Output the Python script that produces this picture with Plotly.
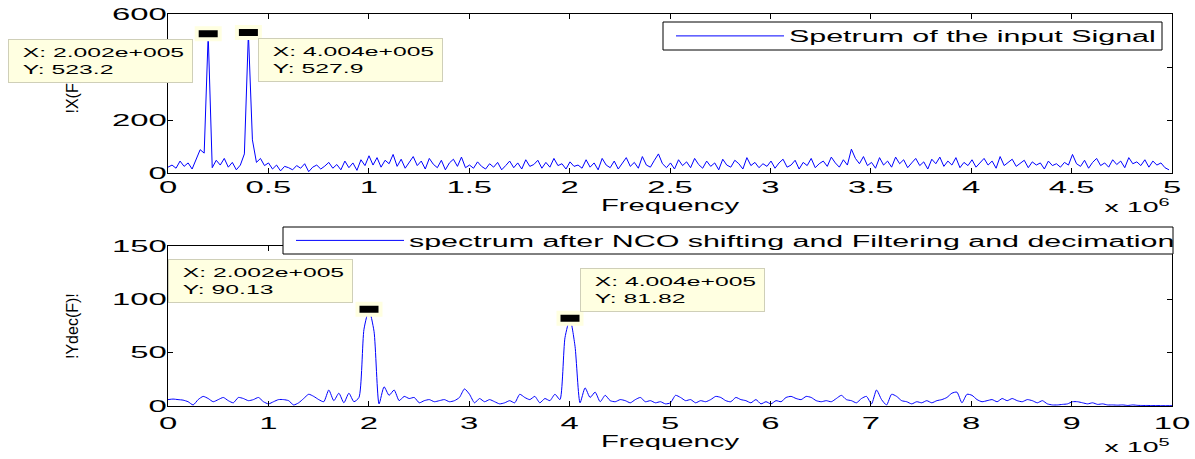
import plotly.graph_objects as go

# ---------------- data ----------------
top_step = 20020.0  # Hz between spectrum bins (input signal)
top_mag = [
    22, 30, 18, 45, 25, 38, 15, 52, 88, 75, 523.2, 20, 48, 30, 55, 22, 40, 12, 30, 72, 527.9, 125, 40, 55, 28,
    38, 15, 30, 8, 25, 20, 12, 28, 18, 35, 5, 22, 30, 15, 26, 40, 18, 32, 12, 45, 20, 38, 10, 50, 28,
    65, 30, 58, 22, 48, 35, 70, 25, 52, 18, 40, 62, 28, 45, 15, 55, 33, 20, 48, 12, 38, 52, 25, 60, 20,
    30, 18, 42, 25, 15, 35, 22, 40, 12, 28, 45, 20, 38, 15, 50, 25, 32, 48, 18, 40, 22, 55, 28, 35, 15,
    42, 25, 30, 18, 50, 22, 38, 12, 55, 30, 20, 45, 15, 35, 58, 25, 40, 18, 62, 30, 22, 48, 72, 35, 20,
    38, 15, 50, 28, 42, 20, 55, 32, 18, 45, 25, 38, 12, 52, 30, 22, 48, 35, 15, 58, 28, 40, 20, 35, 25,
    45, 18, 38, 52, 22, 30, 48, 15, 40, 28, 55, 20, 35, 45, 25, 60, 38, 22, 50, 30, 90, 55, 35, 62, 28,
    40, 18, 58, 30, 45, 22, 60, 35, 50, 20, 38, 55, 28, 42, 15, 52, 35, 60, 25, 45, 30, 58, 20, 40, 28,
    50, 22, 38, 55, 30, 45, 18, 62, 28, 40, 52, 25, 35, 48, 20, 42, 30, 38, 15, 45, 28, 35, 22, 40, 30,
    70, 35, 25, 48, 18, 40, 55, 28, 38, 22, 50, 32, 45, 20, 58, 35, 42, 28, 50, 22, 45, 30, 38, 20, 12,
]

bot_step = 5005.0  # Hz between bins after decimation
bot_mag = [
    6, 6.5, 6, 5.5, 4, 1, 6, 9, 7, 4, 6, 8, 5, 3, 8, 7, 5, 6, 8, 4,
    2, 4, 6, 6, 5, 1, 3, 7, 11, 9, 6, 4, 15, 5, 12, 3, 12, 4, 8, 72,
    90.13, 70, 2, 18, 10, 15, 5, 9, 7, 8, 3, 5, 6, 4, 5, 6, 4, 5, 8, 16,
    11, 3, 7, 4, 6, 4, 2, 3, 5, 3, 11, 8, 6, 9, 3, 7, 5, 11, 6, 64,
    81.82, 56, 3, 17, 8, 13, 4, 10, 5, 4, 6, 5, 3, 6, 8, 4, 5, 3, 4, 2,
    3, 10, 8, 5, 6, 3, 5, 4, 6, 9, 8, 5, 4, 8, 6, 5, 3, 6, 2, 4,
    2, 5, 4, 8, 9, 7, 6, 9, 8, 5, 4, 5, 4, 7, 10, 6, 5, 3, 7, 9,
    2, 15, 6, 1, 11, 9, 5, 4, 2, 4, 3, 5, 3, 5, 6, 8, 12, 13, 3, 11,
    10, 6, 4, 5, 6, 4, 7, 5, 7, 5, 4, 6, 5, 3, 5, 2, 1, 1, 1.5, 2,
    4, 4, 3, 2, 3, 1.5, 2, 1, 1, 0.8, 1, 0.5, 1, 0.6, 0.5, 0.5, 0.4, 0.4, 0.3, 0.3, 0.3,
]

top_peak_x = [200200, 400400]
top_peak_y = [523.2, 527.9]
bot_peak_x = [200200, 400400]
bot_peak_y = [90.13, 81.82]

top_xticks = [0, 0.5e6, 1e6, 1.5e6, 2e6, 2.5e6, 3e6, 3.5e6, 4e6, 4.5e6, 5e6]
top_xlabels = ["0", "0.5", "1", "1.5", "2", "2.5", "3", "3.5", "4", "4.5", "5"]
top_yticks = [0, 200, 400, 600]
bot_xticks = [k * 1e5 for k in range(11)]
bot_xlabels = [str(k) for k in range(11)]
bot_yticks = [0, 50, 100, 150]

top_name = "Spetrum of the input Signal"
bot_name = "spectrum after NCO shifting and Filtering and decimation"

top_freq = [k * top_step for k in range(len(top_mag))]
bot_freq = [k * bot_step for k in range(len(bot_mag))]

# ---------------- figure ----------------
FONT = "Liberation Sans, Arial, Helvetica, sans-serif"
W, H = 1195, 459
ML, MR, MT, MB = 168, 23, 14, 53
PW, PH = W - ML - MR, H - MT - MB


def px(xp):
    return (xp - ML) / PW


def py(yp):
    return 1 - (yp - MT) / PH


fig = go.Figure()
fig.add_trace(go.Scatter(
    x=top_freq, y=top_mag, mode="lines", name=top_name,
    line=dict(color="#0000FF", width=1), xaxis="x", yaxis="y", legend="legend",
))
fig.add_trace(go.Scatter(
    x=bot_freq, y=bot_mag, mode="lines", name=bot_name,
    line=dict(color="#0000FF", width=1, shape="spline", smoothing=0.6),
    xaxis="x2", yaxis="y2", legend="legend2",
))

axis_common = dict(
    showline=True, linecolor="black", linewidth=1, mirror="ticks",
    ticks="inside", ticklen=5, tickcolor="black", showgrid=False, zeroline=False,
    tickfont=dict(size=16, color="black"), automargin=False,
)

legend_common = dict(
    xanchor="left", yanchor="middle", orientation="h",
    bgcolor="rgba(0,0,0,0)", borderwidth=0,
    font=dict(size=16), itemwidth=108,
)

fig.update_layout(
    width=W, height=H,
    margin=dict(l=ML, r=MR, t=MT, b=MB, autoexpand=False),
    paper_bgcolor="white", plot_bgcolor="white",
    font=dict(family=FONT, color="black", size=15),
    xaxis=dict(domain=[0, 1], range=[0, 5e6], tickvals=top_xticks, ticktext=top_xlabels,
               anchor="y", title=dict(text="Frequency", font=dict(size=17), standoff=2), **axis_common),
    yaxis=dict(domain=[py(173), 1], range=[0, 600], tickvals=top_yticks, anchor="x",
               ticklabelstandoff=-3, **axis_common),
    xaxis2=dict(domain=[0, 1], range=[0, 1e6], tickvals=bot_xticks, ticktext=bot_xlabels,
                anchor="y2", ticklabelstandoff=3,
                title=dict(text="Frequency", font=dict(size=17), standoff=0), **axis_common),
    yaxis2=dict(domain=[0, py(246)], range=[0, 150], tickvals=bot_yticks, anchor="x2",
                ticklabelstandoff=-3, **axis_common),
    legend=dict(x=px(671), y=py(36), entrywidth=370, **legend_common),
    legend2=dict(x=px(291), y=py(240.5), entrywidth=760, **legend_common),
    showlegend=True,
)

# legend frames
fig.add_shape(type="rect", xref="paper", yref="paper", x0=px(663), x1=px(1162), y0=py(50), y1=py(22),
              fillcolor="white", line=dict(color="black", width=1), layer="above")
fig.add_shape(type="rect", xref="paper", yref="paper", x0=px(283), x1=px(1173), y0=py(254), y1=py(227),
              fillcolor="white", line=dict(color="black", width=1), layer="above")

# y-axis titles (rotated)
fig.add_annotation(xref="paper", yref="paper", x=px(72), y=py(93.5), text="!X(F)!", textangle=-90,
                   showarrow=False, font=dict(size=16), xanchor="center", yanchor="middle")
fig.add_annotation(xref="paper", yref="paper", x=px(72), y=py(326), text="!Ydec(F)!", textangle=-90,
                   showarrow=False, font=dict(size=16), xanchor="center", yanchor="middle")

# data-tip boxes
tips = [
    (top_peak_x[0], top_peak_y[0], 8, 39),
    (top_peak_x[1], top_peak_y[1], 258, 38),
    (bot_peak_x[0], bot_peak_y[0], 168, 259),
    (bot_peak_x[1], bot_peak_y[1], 580, 268),
]
NB = "\u00a0\u00a0"
for xv, yv, lx, ty in tips:
    xs = "%.3e" % xv
    mant, ex = xs.split("e")
    xs = "%se%s%03d" % (mant, ex[0], abs(int(ex)))
    ys = "%g" % yv
    fig.add_annotation(
        xref="paper", yref="paper", x=px(lx), y=py(ty), xanchor="left", yanchor="top",
        text="%sX: %s<br>%sY: %s" % (NB, xs, NB, ys), showarrow=False, align="left",
        bgcolor="#FFFFE1", bordercolor="#CFCFB8", borderwidth=1, borderpad=0,
        width=183, height=42, font=dict(size=13, color="black"),
    )

# datatip markers at the peaks
for xr, yr, xs_, ys_ in [("x", "y", top_peak_x, top_peak_y), ("x2", "y2", bot_peak_x, bot_peak_y)]:
    for xv, yv in zip(xs_, ys_):
        fig.add_shape(
            type="rect", xref=xr, yref=yr, xsizemode="pixel", ysizemode="pixel",
            xanchor=xv, yanchor=yv, x0=-11.5, x1=11.5, y0=-5, y1=6,
            fillcolor="black", line=dict(color="#FFFFE1", width=4), layer="above",
        )

# exponent labels
fig.add_annotation(xref="paper", yref="paper", x=px(1137), y=py(217), xanchor="center", yanchor="bottom",
                   text="x 10<sup>6</sup>", showarrow=False, font=dict(size=15))
fig.add_annotation(xref="paper", yref="paper", x=px(1137), y=py(457), xanchor="center", yanchor="bottom",
                   text="x 10<sup>5</sup>", showarrow=False, font=dict(size=15))

# page without body margin + horizontally stretch non-rotated texts
# (the reference figure is widened ~1.9x horizontally)
post = r"""
(function(){
  document.documentElement.style.margin = '0';
  document.body.style.margin = '0';
  document.body.style.overflow = 'hidden';
  var gd = document.getElementById('{plot_id}');
  function rotated(el){
    while (el && el.getAttribute && el.tagName.toLowerCase() !== 'svg') {
      var t = el.getAttribute('transform');
      if (t && /rotate\(\s*-?[1-9]/.test(t)) return true;
      el = el.parentNode;
    }
    return false;
  }
  function inside(el, cls){
    while (el && el.getAttribute) {
      var c = el.getAttribute('class') || '';
      if ((' ' + c + ' ').indexOf(' ' + cls + ' ') >= 0) return true;
      el = el.parentNode;
    }
    return false;
  }
  var texts = gd.querySelectorAll('svg text');
  for (var i = 0; i < texts.length; i++) {
    var t = texts[i];
    if (rotated(t)) continue;
    var s = 1.9;
    var cls = t.getAttribute('class') || '';
    if (/x2?title/.test(cls)) s = 1.72;
    else if (inside(t, 'xtick') || inside(t, 'x2tick') || inside(t, 'ytick') || inside(t, 'y2tick')) s = 2.05;
    var lines = t.querySelectorAll('tspan.line');
    var targets = lines.length ? Array.prototype.slice.call(lines) : [t];
    for (var j = 0; j < targets.length; j++) {
      var el = targets[j];
      var L = el.getComputedTextLength();
      if (L > 0) {
        el.setAttribute('textLength', (L * s).toFixed(2));
        el.setAttribute('lengthAdjust', 'spacingAndGlyphs');
      }
    }
  }
})();
"""

fig.write_html("out.html", post_script=post, config={"displayModeBar": False})
